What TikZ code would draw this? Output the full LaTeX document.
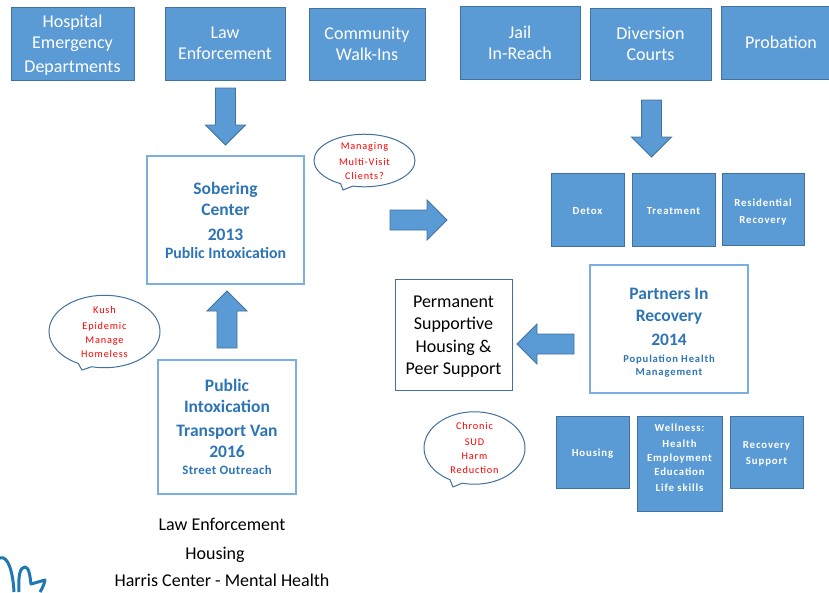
\documentclass[tikz,border=0pt]{standalone}
\usepackage{fontspec}
\setmainfont{Carlito}
\usetikzlibrary{shapes.callouts}
\definecolor{boxfill}{HTML}{5B9BD5}
\definecolor{boxline}{HTML}{41719C}
\definecolor{progline}{HTML}{7CAEDF}
\definecolor{progtext}{HTML}{2E75B6}
\definecolor{logoblue}{HTML}{1F78B4}
\def\blockarrow(#1,#2)(#3){\draw[blockarrow, shift={(#1,#2)}, rotate=#3] (0,0) -- (20,-20) -- (10,-20) -- (10,-57) -- (-10,-57) -- (-10,-20) -- (-20,-20) -- cycle;}
\def\subsmall{\fontsize{10.6}{13}\selectfont\addfontfeature{LetterSpace=8}}
\def\tophgt#1{\rule{0pt}{#1pt}}
\def\botdep#1{\rule[-#1pt]{0pt}{0pt}}
\tikzset{
	bluebox/.style={draw=boxline, fill=boxfill, line width=0.9pt, text=white, align=center, inner sep=0pt},
	bigbox/.style={bluebox, font=\fontsize{18}{21}\selectfont},
	smallbox/.style={bluebox, font=\fontsize{10.8}{14}\selectfont\bfseries\addfontfeature{LetterSpace=8}},
	progbox/.style={draw=progline, fill=white, line width=1.2pt, text=progtext, align=center, inner sep=0pt, font=\fontsize{17.5}{21}\selectfont\bfseries},
	blockarrow/.style={draw=boxline, fill=boxfill, line width=0.9pt, line join=miter},
	bubble/.style={ellipse callout, draw=boxline, fill=white, line width=1pt, text=red, align=center, inner sep=0pt, font=\fontsize{10.3}{14}\selectfont\addfontfeature{LetterSpace=8}},
	plainlabel/.style={font=\fontsize{18}{20}\selectfont, inner sep=0pt}
}
\begin{document}
\begin{tikzpicture}[x=1pt, y=-1pt]
	%%%%% top row
	\useasboundingbox (0,0) rectangle (829,592);
	\node[bigbox, minimum width=123, minimum height=73] (hospital) at (72.5,43.5) {\tophgt{16}Hospital\\Emergency\\[3pt]Departments};
	\node[bigbox, minimum width=120, minimum height=73] (law) at (225,43.5) {Law\\Enforcement};
	\node[bigbox, minimum width=116, minimum height=72] (community) at (367,44) {Community\\Walk-Ins};
	\node[bigbox, minimum width=120, minimum height=73] (jail) at (520,42.5) {Jail\\In-Reach};
	\node[bigbox, minimum width=121, minimum height=72] (diversion) at (650.5,44) {Diversion\\Courts};
	\node[bigbox, minimum width=120, minimum height=73] (probation) at (781,42.5) {Probation};

	\blockarrow(225.5,145)(0)
	\blockarrow(651.5,157)(0)
	\blockarrow(227,291)(180)
	\blockarrow(447,220)(90)
	\blockarrow(517,344)(-90)

	%%%%% programs
	\node[progbox, minimum width=157, minimum height=128] (sobering) at (225.5,220) {Sobering\\Center\\[4pt]2013\\[-3pt]\fontsize{15.8}{16}\selectfont Public Intoxication};
	\node[progbox, minimum width=138, minimum height=134] (van) at (227,427) {Public\\Intoxication\\[3pt]Transport Van\\2016\\[-4pt]\fontsize{12.8}{14}\selectfont\addfontfeature{LetterSpace=3} Street Outreach};
	\node[progbox, minimum width=158, minimum height=128] (partners) at (669,329) {\tophgt{18}Partners In\\[1pt]Recovery\\[3pt]2014\\[-4pt]\subsmall Population Health\\[-8pt]\subsmall Management};
	\node[bluebox, draw=boxline, fill=white, text=black, minimum width=117, minimum height=111, font=\fontsize{18}{22.5}\selectfont] (housingpeer) at (453.5,334.5) {\tophgt{16}Permanent\\Supportive\\Housing \&\\Peer Support};

	%%%%% services
	\node[smallbox, minimum width=73, minimum height=73] (detox) at (587.5,209.5) {\tophgt{10}Detox};
	\node[smallbox, minimum width=83, minimum height=73] (treatment) at (673.5,209.5) {\tophgt{10}Treatment};
	\node[smallbox, minimum width=82, minimum height=72] (residential) at (763,209) {\tophgt{14}Residential\\[3pt]Recovery};
	\node[smallbox, minimum width=73, minimum height=72] (housing) at (592.5,452) {\tophgt{10}Housing};
	\node[smallbox, minimum width=85, minimum height=95] (wellness) at (679.5,463.5) {Wellness:\\[2pt]Health\\Employment\\Education\\[2pt]Life skills\botdep{11}};
	\node[smallbox, minimum width=73, minimum height=72] (recovery) at (766.5,452) {\tophgt{10}Recovery\\[2pt]Support};

	%%%%% bubbles
	\node[bubble, minimum width=101, minimum height=49, callout absolute pointer={(343,190)}] (managing) at (364.5,160.5) {Managing\\[2pt]Multi-Visit\\Clients?};
	\node[bubble, minimum width=111, minimum height=63, callout absolute pointer={(82,370)}] (kush) at (104.5,331.5) {Kush\\[2pt]Epidemic\\Manage\\Homeless};
	\node[bubble, minimum width=101, minimum height=64, callout absolute pointer={(453,487)}] (chronic) at (474.5,448) {Chronic\\[2pt]SUD\\Harm\\Reduction};

	%%%%% bottom labels
	\node[plainlabel] (lawlabel) at (222,524.5) {Law Enforcement};
	\node[plainlabel] (housinglabel) at (215,554.5) {Housing};
	\node[plainlabel] (harrislabel) at (222,580.5) {Harris Center - Mental Health};

	%%%%% logo
	\draw[logoblue, line width=3pt] (0,558) .. controls (8,555) and (13,572) .. (14,592);
	\draw[logoblue, line width=3pt, line join=round] (19,592) .. controls (18,576) and (20,567) .. (25,567) .. controls (29,567) and (30,576) .. (31,584) .. controls (35,583) and (41,581) .. (45,580) .. controls (44,585) and (42,589) .. (40,592);
\end{tikzpicture}
\end{document}
